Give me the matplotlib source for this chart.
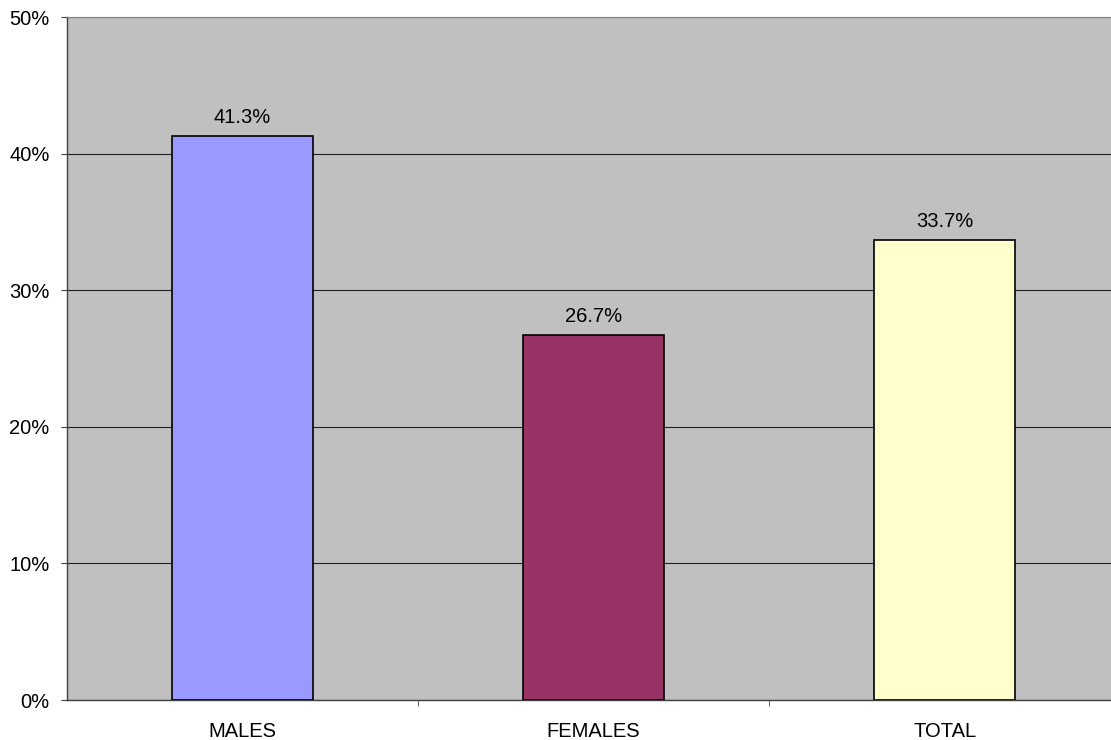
import matplotlib
matplotlib.use("Agg")
import matplotlib.pyplot as plt
import numpy as np

categories = ["MALES", "FEMALES", "TOTAL"]
values = [41.3, 26.7, 33.7]
bar_colors = ["#9999FF", "#993366", "#FFFFCC"]
yticks = [0, 10, 20, 30, 40, 50]

plt.rcParams["font.family"] = ["Liberation Sans", "DejaVu Sans"]
FS = 14.5

fig = plt.figure(figsize=(11.11, 7.4), dpi=100)
ax = fig.add_axes([0.0603, 0.054, 0.948, 0.923])
ax.set_facecolor("#C0C0C0")

x = np.arange(len(categories))
ax.bar(x, values, width=0.4, color=bar_colors, edgecolor="black", linewidth=1.2, zorder=3)
for xi, v in zip(x, values):
    ax.text(xi, v + 0.65, f"{v:.1f}%", ha="center", va="bottom", fontsize=FS, zorder=4)

ax.set_xlim(-0.5, 2.5)
ax.set_ylim(0, 50)
ax.set_yticks(yticks)
ax.set_yticklabels([f"{t}%" for t in yticks], fontsize=FS)
ax.yaxis.grid(True, color="#202020", linewidth=0.8, zorder=1)

ax.set_xticks(x)
ax.set_xticklabels(categories, fontsize=FS)
ax.tick_params(axis="x", length=0, pad=16)
ax.set_xticks([0.5, 1.5], minor=True)
ax.tick_params(axis="x", which="minor", length=4.5, color="#404040")
ax.tick_params(axis="y", length=4.5, color="#404040", pad=8)

for side in ["left", "bottom"]:
    ax.spines[side].set_color("#404040")
    ax.spines[side].set_linewidth(1.0)
ax.spines["top"].set_color("#808080")
ax.spines["right"].set_visible(False)

fig.savefig("out.png", dpi=100)
plt.close(fig)
